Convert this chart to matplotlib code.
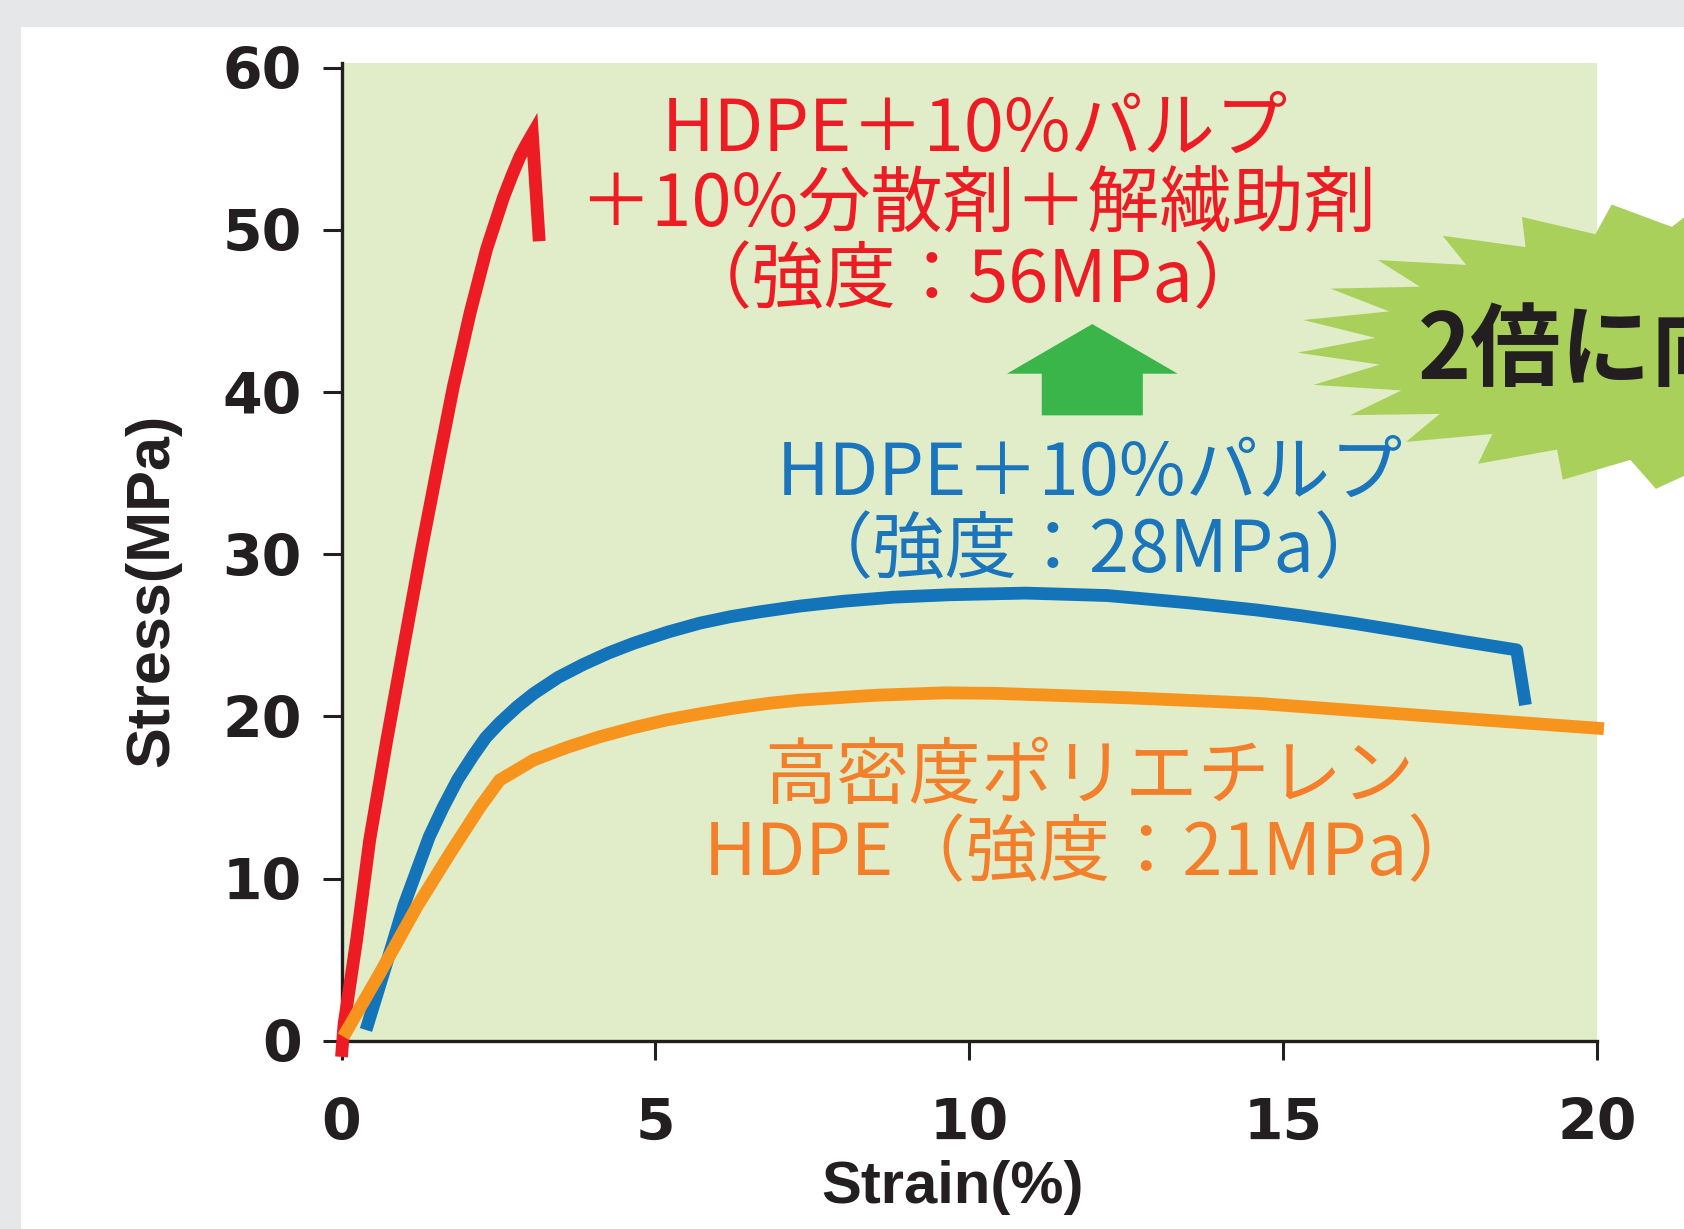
import numpy as np
import matplotlib
matplotlib.use("Agg")
import matplotlib.pyplot as plt
from matplotlib.patches import Polygon, Rectangle, FancyArrow

plt.rcParams['font.family'] = ['Noto Sans CJK JP', 'DejaVu Sans']

W, H = 1684, 1229

# stress-strain curves (strain %, stress MPa)
red_strain = [0.0, 0.04, 0.24, 0.45, 0.72, 1.01, 1.27, 1.52, 1.78, 2.05, 2.31, 2.58, 2.71,
              2.84, 2.95, 3.04, 3.15]
red_stress = [-1.0, 1.0, 6.2, 12.4, 18.5, 24.7, 30.2, 35.2, 40.3, 44.9, 48.8, 52.0, 53.3,
              54.5, 55.3, 55.9, 49.3]

blue_strain = [0.39, 0.6, 0.83, 1.0, 1.20, 1.4, 1.62, 1.85, 2.10, 2.3, 2.52, 2.8, 3.06, 3.45,
               3.85, 4.25, 4.65, 5.2, 5.71, 6.2, 6.67, 7.3, 8.0, 8.8, 9.7, 10.9, 12.2, 13.5,
               14.6, 15.3, 16.1, 16.9, 17.9, 18.72, 18.86]
blue_stress = [0.66, 3.3, 6.2, 8.4, 10.5, 12.6, 14.4, 16.1, 17.6, 18.7, 19.6, 20.6, 21.4, 22.4,
               23.2, 23.9, 24.5, 25.2, 25.75, 26.15, 26.45, 26.8, 27.1, 27.35, 27.5, 27.6, 27.45,
               27.0, 26.55, 26.2, 25.75, 25.25, 24.6, 24.1, 20.7]

orange_strain = [0.03, 0.61, 1.20, 1.73, 2.21, 2.52, 3.06, 3.6, 4.12, 4.65, 5.18, 5.7, 6.24,
                 6.8, 7.3, 8.5, 9.6, 10.4, 12.5, 14.6, 15.3, 17.4, 20.11]
orange_stress = [0.25, 4.15, 8.26, 11.56, 14.43, 16.07, 17.31, 18.1, 18.75, 19.3, 19.78, 20.15,
                 20.5, 20.8, 21.0, 21.3, 21.45, 21.42, 21.15, 20.8, 20.6, 20.0, 19.24]

x_ticks = [0, 5, 10, 15, 20]
y_ticks = [0, 10, 20, 30, 40, 50, 60]

red_label = ["HDPE＋10%パルプ", "＋10%分散剤＋解繊助剤", "（強度：56MPa）"]
blue_label = ["HDPE＋10%パルプ", "（強度：28MPa）"]
orange_label = ["高密度ポリエチレン", "HDPE（強度：21MPa）"]
burst_text = "2倍に向上"

RED = '#ed1c24'
BLUE = '#1374ba'
ORANGE = '#f7941d'
INK = '#231f20'

fig = plt.figure(figsize=(W / 100, H / 100), dpi=100, facecolor='#e6e7e9')
# white panel
fig.add_artist(Rectangle((21 / W, 0), 1, 1 - 27 / H, transform=fig.transFigure,
                         facecolor='white', edgecolor='none', zorder=-5))

ax = fig.add_axes([341.5 / W, 1 - 1040.7 / H, 1255.5 / W, 977.4 / H])
ax.set_facecolor('#e1edc8')
ax.set_xlim(0, 20)
ax.set_ylim(0, 60.27)
for side in ['top', 'right']:
    ax.spines[side].set_visible(False)
for side in ['left', 'bottom']:
    ax.spines[side].set_linewidth(2.4)
    ax.spines[side].set_color(INK)

ax.set_xticks(x_ticks)
ax.set_yticks(y_ticks)
ax.tick_params(direction='out', length=13.7, width=2.2, color=INK, labelcolor=INK)
ax.tick_params(axis='x', pad=27)
ax.tick_params(axis='y', pad=15)
for lab in ax.get_xticklabels() + ax.get_yticklabels():
    lab.set_fontfamily('DejaVu Sans')
    lab.set_fontweight('bold')
    lab.set_fontsize(41)

ax.set_xlabel("Strain(%)", fontfamily='Liberation Sans', fontweight='bold', fontsize=43,
              color=INK, va='baseline')
ax.xaxis.set_label_coords(0.487, -0.166)
ax.set_ylabel("Stress(MPa)", fontfamily='Liberation Sans', fontweight='bold', fontsize=44,
              color=INK, va='baseline')
ax.yaxis.set_label_coords(-0.1377, 0.4604)

# curves
lw = 9.2
ax.plot(red_strain, red_stress, color=RED, lw=lw, solid_capstyle='butt',
        solid_joinstyle='miter', clip_on=False, zorder=3)
ax.plot(blue_strain, blue_stress, color=BLUE, lw=lw, solid_capstyle='butt',
        solid_joinstyle='round', clip_on=False, zorder=3)
ax.plot(orange_strain, orange_stress, color=ORANGE, lw=lw, solid_capstyle='butt',
        solid_joinstyle='round', clip_on=False, zorder=3)

# starburst behind the "2倍" message
n_tips = 28
k = np.arange(2 * n_tips)
t = np.deg2rad(177 + k * 360 / (2 * n_tips))
r = np.where(k % 2 == 0, 1.0, 0.82)
bx = 1730 + 433 * r * np.cos(t)
by = 345 + 146 * r * np.sin(t)
ax.add_patch(Polygon(np.column_stack([bx / W, 1 - by / H]), closed=True,
                     transform=fig.transFigure, facecolor='#a8d05b', edgecolor='none',
                     clip_on=False, zorder=1))

# up arrow
ax.add_patch(FancyArrow(11.96, 38.56, 0, 5.63, width=1.61, head_width=2.72, head_length=3.06,
                        length_includes_head=True, color='#3ab54a', lw=0, zorder=2))

fs = 52
red_pos = [(10.09, 54.86), (10.13, 50.19), (10.06, 45.57)]
for s, (x, y) in zip(red_label, red_pos):
    ax.text(x, y, s, color=RED, fontsize=fs, ha='center', va='baseline', zorder=4)

blue_pos = [(11.92, 33.65), (11.98, 28.92)]
for s, (x, y) in zip(blue_label, blue_pos):
    ax.text(x, y, s, color='#1a75bc', fontsize=fs, ha='center', va='baseline', zorder=4)

orange_pos = [(11.92, 14.97), (11.95, 10.22)]
for s, (x, y) in zip(orange_label, orange_pos):
    ax.text(x, y, s, color='#f37f2b', fontsize=fs, ha='center', va='baseline', zorder=4)

fig.text(1418 / W, 1 - 379.3 / H, burst_text, color=INK, fontsize=65, fontweight='bold',
         ha='left', va='baseline', zorder=5)

fig.savefig("out.png", dpi=100, facecolor=fig.get_facecolor())
